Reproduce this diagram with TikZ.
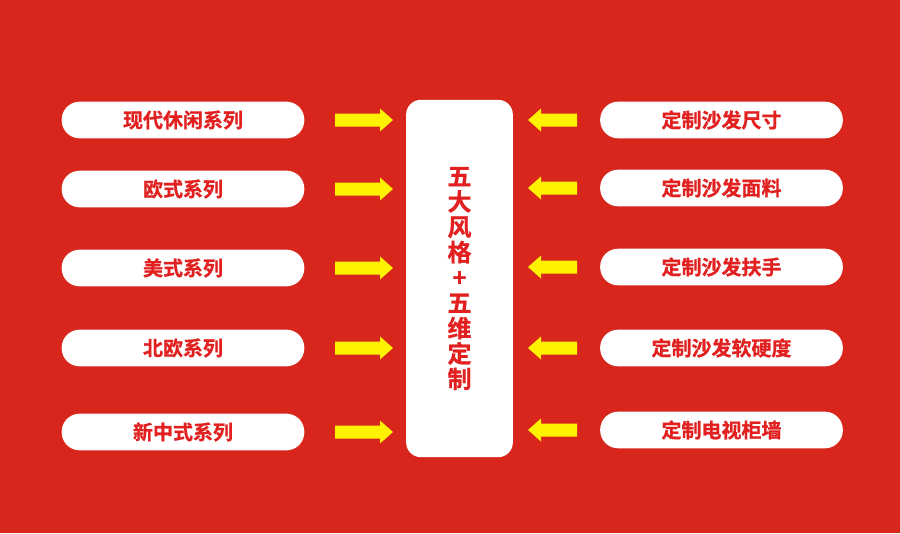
\documentclass[tikz,border=0pt]{standalone}
\usepackage{fontspec}
\newfontfamily\cjk{Noto Sans CJK SC Bold}[FakeBold=0.8]
\definecolor{bgred}{HTML}{D8261C}
\definecolor{txtred}{HTML}{E1201F}
\definecolor{arrowyellow}{HTML}{FFF200}
\tikzset{
  px/.style={x=0.75pt,y=-0.75pt},
  pill/.style={fill=white, rounded corners=13.5pt, minimum width=182pt, minimum height=27.5pt, inner sep=0pt,
     font=\cjk\fontsize{15}{15}\selectfont, text=txtred},
  yarrow/.style={fill=arrowyellow},
}
\begin{document}
\begin{tikzpicture}[px]
\fill[bgred] (0,0) rectangle (900,533);
\useasboundingbox (0,0) rectangle (900,533);
\node[fill=white, rounded corners=11pt, minimum width=80pt, minimum height=268pt, inner sep=0pt] (center) at (459.5,278.5) {};
\node[font=\cjk\fontsize{18}{19}\selectfont, text=txtred, align=center] (ctext) at (459.5,278.5) {五\\大\\风\\格\\+\\五\\维\\定\\制};
% left
\node[pill] (l1) at (183,120) {现代休闲系列};
\node[pill] (l2) at (183,189) {欧式系列};
\node[pill] (l3) at (183,268) {美式系列};
\node[pill] (l4) at (183,348) {北欧系列};
\node[pill] (l5) at (183,432) {新中式系列};
% right
\node[pill] (r1) at (721.5,120) {定制沙发尺寸};
\node[pill] (r2) at (721.5,188) {定制沙发面料};
\node[pill] (r3) at (721.5,267) {定制沙发扶手};
\node[pill] (r4) at (721.5,348) {定制沙发软硬度};
\node[pill] (r5) at (721.5,430) {定制电视柜墙};
% arrows
\foreach \y in {120,189,268,348,432}{
  \fill[yarrow] (335,\y-6.5) -- (380,\y-6.5) -- (380,\y-11.5) -- (393,\y) -- (380,\y+11.5) -- (380,\y+6.5) -- (335,\y+6.5) -- cycle;
}
\foreach \y in {120,188,267,348,430}{
  \fill[yarrow] (577,\y-6.5) -- (541,\y-6.5) -- (541,\y-11.5) -- (528,\y) -- (541,\y+11.5) -- (541,\y+6.5) -- (577,\y+6.5) -- cycle;
}
\end{tikzpicture}
\end{document}
